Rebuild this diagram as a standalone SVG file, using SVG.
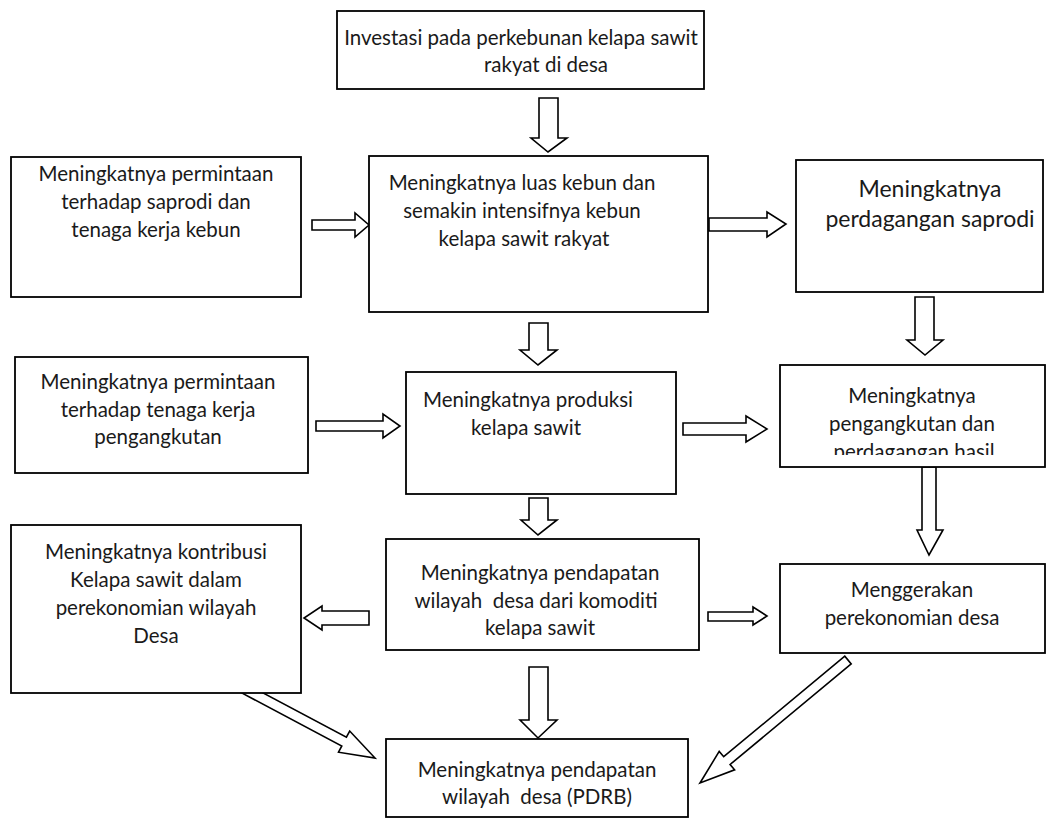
<svg xmlns="http://www.w3.org/2000/svg" width="1061" height="818" viewBox="0 0 1061 818">
<defs>
<style>
.box{fill:#fff;stroke:#000;stroke-width:1.8}
.ar{fill:#fff;stroke:#000;stroke-width:1.6;stroke-linejoin:miter}
text{font-family:Lato,"Open Sans","Liberation Sans",sans-serif;font-size:20.5px;fill:#1a1a1a;text-anchor:middle;white-space:pre}
.big{font-size:23px}
</style>
<clipPath id="clipG"><rect x="780" y="365" width="266" height="90"/></clipPath>
</defs>
<rect width="1061" height="818" fill="#fff"/>
<g id="connectors">
<polygon class="ar" points="539,98 558,98 558,138 567,138 548,152 531,138 539,138"/>
<polygon class="ar" points="312,220 355,220 355,213 369,225 355,237 355,230 312,230"/>
<polygon class="ar" points="709,218 767,218 767,212 786,224 767,237 767,231 709,231"/>
<polygon class="ar" points="529,323 548,323 548,350 557,350 538,365 520,350 529,350"/>
<polygon class="ar" points="915,297 934,297 934,340 943,340 925,355 907,340 915,340"/>
<polygon class="ar" points="316,421 383,421 383,414 400,426 383,438 383,431 316,431"/>
<polygon class="ar" points="683,423 746,423 746,416 767,429 746,442 746,435 683,435"/>
<polygon class="ar" points="529,498 548,498 548,520 557,520 538,535 521,520 529,520"/>
<polygon class="ar" points="922,467 936,467 936,530 943,530 929,555 917,530 922,530"/>
<polygon class="ar" points="369,611 322,611 322,606 304,618 322,630 322,625 369,625"/>
<polygon class="ar" points="708,612 753,612 753,607 767,616 753,625 753,621 708,621"/>
<polygon class="ar" points="529,667 548,667 548,720 557,720 538,738 520,720 529,720"/>
<polygon class="ar" points="240.7,692.4 341.8,746 338.5,752.2 375,758 349.7,731 346.4,737.2 245.3,683.6"/>
<polygon class="ar" points="851.2,663.9 730.1,764.5 734.6,769.8 700,783 719.2,751.4 723.7,756.7 844.8,656.2"/>
</g>
<g id="n1"><rect class="box" x="337" y="11" width="367" height="78"/>
<text x="521" y="45">Investasi pada perkebunan kelapa sawit</text><text x="546" y="72">rakyat di desa</text></g>
<g id="n2"><rect class="box" x="11" y="157" width="290" height="140"/>
<text x="156" y="181">Meningkatnya permintaan</text><text x="156" y="209">terhadap saprodi dan</text><text x="156" y="237">tenaga kerja kebun</text></g>
<g id="n3"><rect class="box" x="369" y="156" width="339" height="156"/>
<text x="522" y="190">Meningkatnya luas kebun dan</text><text x="522" y="218">semakin intensifnya kebun</text><text x="524" y="246">kelapa sawit rakyat</text></g>
<g id="n4"><rect class="box" x="796" y="160" width="247" height="132"/>
<text class="big" x="930" y="197">Meningkatnya</text><text class="big" x="930" y="227">perdagangan saprodi</text></g>
<g id="n5"><rect class="box" x="15" y="357" width="293" height="116"/>
<text x="158" y="389">Meningkatnya permintaan</text><text x="158" y="417">terhadap tenaga kerja</text><text x="158" y="444">pengangkutan</text></g>
<g id="n6"><rect class="box" x="406" y="372" width="270" height="122"/>
<text x="528" y="407">Meningkatnya produksi</text><text x="526" y="435">kelapa sawit</text></g>
<g id="n7"><rect class="box" x="780" y="365" width="265" height="102"/>
<g clip-path="url(#clipG)"><text x="912" y="403">Meningkatnya</text><text x="912" y="431">pengangkutan dan</text><text x="914" y="459">perdagangan hasil</text></g></g>
<g id="n8"><rect class="box" x="780" y="564" width="265" height="89"/>
<text x="912" y="597">Menggerakan</text><text x="912" y="625">perekonomian desa</text></g>
<g id="n9"><rect class="box" x="386" y="539" width="313" height="111"/>
<text x="540" y="580">Meningkatnya pendapatan</text><text x="536" y="608">wilayah  desa dari komoditi</text><text x="540" y="635">kelapa sawit</text></g>
<g id="n10"><rect class="box" x="11" y="525" width="290" height="168"/>
<text x="156" y="559">Meningkatnya kontribusi</text><text x="156" y="587">Kelapa sawit dalam</text><text x="156" y="615">perekonomian wilayah</text><text x="156" y="643">Desa</text></g>
<g id="n11"><rect class="box" x="386" y="739" width="302" height="78"/>
<text x="537" y="777">Meningkatnya pendapatan</text><text x="537" y="804">wilayah  desa (PDRB)</text></g>
</svg>
